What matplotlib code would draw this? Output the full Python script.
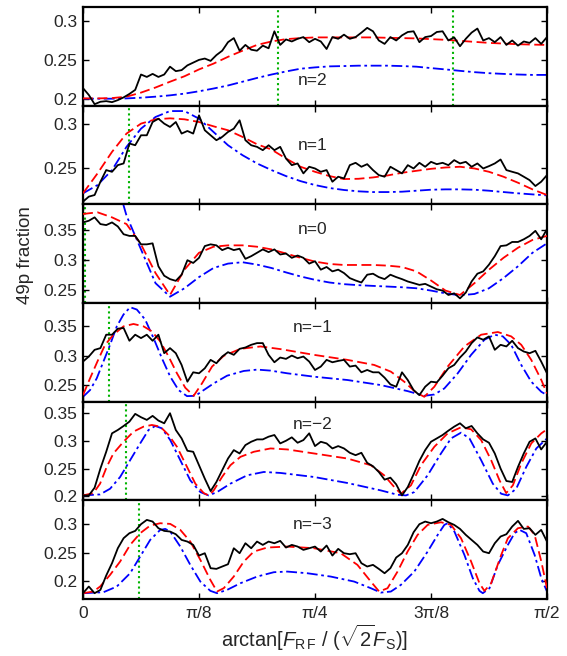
import numpy as np
import matplotlib
matplotlib.use('Agg')
import matplotlib.pyplot as plt
from matplotlib.ticker import FixedLocator, FuncFormatter

plt.rcParams['font.family'] = ['Liberation Sans', 'DejaVu Sans']
plt.rcParams['mathtext.fontset'] = 'custom'
plt.rcParams['mathtext.rm'] = 'Liberation Sans'
plt.rcParams['mathtext.it'] = 'Liberation Sans:italic'
plt.rcParams['mathtext.sf'] = 'Liberation Sans'

# field angle arctan[F_RF/(sqrt2 F_S)] in degrees
theta_meas = np.linspace(0, 90, 81)     # measured scans
theta_model = np.linspace(0, 90, 33)    # model grid for n=2, 1, 0

n_labels = ['n=2', 'n=1', 'n=0', 'n=\u22121', 'n=\u22122', 'n=\u22123']

# ---- n = 2 ----
meas_n2 = [0.2144, 0.2057, 0.1939, 0.197, 0.1978, 0.1965, 0.1991, 0.2026, 0.207, 0.2122,
           0.2318, 0.2287, 0.2326, 0.2287, 0.2318, 0.2418, 0.2361, 0.2374, 0.2435, 0.247,
           0.2505, 0.2522, 0.2492, 0.2566, 0.2622, 0.2731, 0.2783, 0.2622, 0.2696, 0.2635,
           0.2622, 0.2687, 0.2653, 0.287, 0.2696, 0.2766, 0.274, 0.2774, 0.2796, 0.2731,
           0.2774, 0.274, 0.2644, 0.2796, 0.2774, 0.2827, 0.2774, 0.2796, 0.2853, 0.2914,
           0.287, 0.2753, 0.2709, 0.2796, 0.2753, 0.2818, 0.2861, 0.287, 0.2731, 0.2796,
           0.2809, 0.2861, 0.287, 0.2753, 0.2792, 0.2679, 0.2774, 0.2853, 0.2905, 0.2753,
           0.2783, 0.2731, 0.2796, 0.2696, 0.2753, 0.2687, 0.274, 0.2722, 0.2783, 0.2709,
           0.2796]
full_n2 = [0.2013, 0.2013, 0.2017, 0.2035, 0.2087, 0.2152, 0.2226, 0.2296, 0.2383, 0.2457,
           0.2544, 0.2622, 0.2696, 0.274, 0.277, 0.2783, 0.2792, 0.2792, 0.2792, 0.2792,
           0.2792, 0.2787, 0.2783, 0.2779, 0.277, 0.2761, 0.2748, 0.2735, 0.2722, 0.2713,
           0.2705, 0.27, 0.2696]
simple_n2 = [0.2009, 0.2009, 0.2009, 0.2013, 0.2022, 0.2035, 0.2052, 0.2074, 0.2104, 0.2139,
             0.2178, 0.2226, 0.2274, 0.2318, 0.2357, 0.2392, 0.2409, 0.2422, 0.2426, 0.2431,
             0.2431, 0.2431, 0.2426, 0.2418, 0.24, 0.2383, 0.2365, 0.2348, 0.2335, 0.2326,
             0.2318, 0.2313, 0.2313]

# ---- n = 1 ----
meas_n1 = [0.213, 0.2186, 0.2204, 0.2352, 0.2482, 0.2463, 0.2537, 0.2556, 0.2778, 0.2759,
           0.287, 0.287, 0.3018, 0.3055, 0.3, 0.2963, 0.3018, 0.2889, 0.2918, 0.2889,
           0.3092, 0.2926, 0.287, 0.2815, 0.2852, 0.2907, 0.2944, 0.3037, 0.2815, 0.2759,
           0.2741, 0.2704, 0.2759, 0.2704, 0.2741, 0.2611, 0.2537, 0.2556, 0.2445, 0.2519,
           0.25, 0.2463, 0.2482, 0.2352, 0.2408, 0.2389, 0.2537, 0.2563, 0.2519, 0.2548,
           0.2482, 0.2426, 0.2408, 0.2519, 0.2482, 0.2445, 0.2537, 0.25, 0.2563, 0.2519,
           0.2574, 0.2548, 0.2563, 0.2537, 0.2593, 0.2556, 0.2574, 0.2519, 0.2556, 0.25,
           0.2526, 0.2556, 0.26, 0.2482, 0.2463, 0.2445, 0.2408, 0.237, 0.2304, 0.2352,
           0.2426]
full_n1 = [0.2223, 0.2445, 0.2685, 0.2889, 0.3, 0.3048, 0.3059, 0.3048, 0.3018, 0.297,
           0.2926, 0.2852, 0.277, 0.2711, 0.2611, 0.2519, 0.2463, 0.2415, 0.2382, 0.2385,
           0.24, 0.2422, 0.2452, 0.2474, 0.2496, 0.2511, 0.2519, 0.25, 0.2463, 0.2408,
           0.2341, 0.2267, 0.2204]
simple_n1 = [0.2223, 0.2315, 0.2482, 0.2741, 0.2944, 0.3074, 0.314, 0.314, 0.3055, 0.2907,
             0.2759, 0.2648, 0.2556, 0.2482, 0.2415, 0.2359, 0.2315, 0.2282, 0.226, 0.2245,
             0.2237, 0.2237, 0.2241, 0.2252, 0.2263, 0.2267, 0.2267, 0.2263, 0.2252, 0.2237,
             0.2223, 0.2211, 0.22]

# ---- n = 0 ----
meas_n0 = [0.3636, 0.3664, 0.3721, 0.3608, 0.3591, 0.3636, 0.3568, 0.3437, 0.3409, 0.3409,
           0.3267, 0.3267, 0.3284, 0.2898, 0.2739, 0.2682, 0.2653, 0.2756, 0.3, 0.2954,
           0.304, 0.3238, 0.3267, 0.325, 0.317, 0.321, 0.317, 0.3193, 0.3023, 0.3068,
           0.3125, 0.3182, 0.3136, 0.3182, 0.3096, 0.3113, 0.304, 0.3079, 0.304, 0.2943,
           0.2983, 0.2841, 0.2886, 0.2812, 0.2841, 0.2784, 0.2699, 0.2659, 0.2625, 0.2756,
           0.2773, 0.2716, 0.2682, 0.2756, 0.2716, 0.2682, 0.2642, 0.2614, 0.2585, 0.2602,
           0.2557, 0.2511, 0.2489, 0.2415, 0.2443, 0.2358, 0.2455, 0.2642, 0.2773, 0.2812,
           0.2926, 0.3068, 0.3238, 0.325, 0.3307, 0.3307, 0.3352, 0.3409, 0.3494, 0.3352,
           0.3522]
full_n0 = [0.3778, 0.3806, 0.3721, 0.3608, 0.3267, 0.2784, 0.2415, 0.2841, 0.3125, 0.3227,
           0.325, 0.325, 0.3227, 0.3182, 0.3113, 0.304, 0.2977, 0.2937, 0.292, 0.292,
           0.292, 0.2909, 0.2886, 0.2812, 0.2659, 0.2489, 0.2415, 0.2614, 0.2841, 0.304,
           0.321, 0.3341, 0.3409]
simple_n0 = [0.70, 0.58, 0.46, 0.375, 0.3182, 0.2614, 0.2386, 0.2528, 0.2716, 0.2869,
             0.2943, 0.2966, 0.2926, 0.2869, 0.2795, 0.2727, 0.267, 0.2625, 0.2597, 0.258,
             0.2568, 0.2557, 0.2545, 0.2528, 0.2489, 0.2443, 0.2409, 0.2432, 0.2528, 0.2699,
             0.2898, 0.3125, 0.3284]

# ---- n = -1 ----
meas_m1 = [0.2897, 0.2983, 0.3098, 0.3127, 0.3357, 0.3357, 0.346, 0.3472, 0.3253, 0.3357,
           0.3299, 0.3357, 0.3253, 0.3357, 0.304, 0.3127, 0.304, 0.2839, 0.2552, 0.2713,
           0.2696, 0.2782, 0.2926, 0.2868, 0.2983, 0.3058, 0.3012, 0.3115, 0.3138, 0.3184,
           0.3213, 0.3213, 0.3012, 0.2885, 0.2966, 0.2943, 0.3, 0.2954, 0.2983, 0.2897,
           0.2753, 0.2811, 0.2926, 0.2885, 0.2908, 0.2926, 0.2811, 0.2828, 0.2713, 0.2753,
           0.2713, 0.2713, 0.2621, 0.2506, 0.2466, 0.2713, 0.258, 0.2408, 0.2322, 0.2466,
           0.2552, 0.254, 0.2655, 0.2782, 0.2839, 0.2966, 0.3069, 0.3213, 0.3311, 0.3271,
           0.3328, 0.3098, 0.3184, 0.3156, 0.3253, 0.3127, 0.3069, 0.304, 0.3081, 0.2897,
           0.2696]
full_m1_deg = [0, 1.36, 2.79, 4.28, 5.90, 7.85, 9.79, 11.74, 13.36, 14.98, 16.60, 18.22,
               19.84, 21.46, 23.08, 25.03, 27.30, 30.54, 34.43, 38.32, 44.80, 51.29, 56.48,
               59.72, 62.31, 64.58, 66.20, 68.15, 70.74, 73.98, 77.23, 80.47, 83.06, 85.01,
               86.95, 88.90, 90]
full_m1 = [0.2322, 0.2609, 0.2897, 0.3184, 0.3357, 0.35, 0.3541, 0.35, 0.3414, 0.3242,
           0.2983, 0.2696, 0.2448, 0.231, 0.2523, 0.2811, 0.2995, 0.3115, 0.3156, 0.311,
           0.3012, 0.2926, 0.2839, 0.2724, 0.2552, 0.2368, 0.2293, 0.2466, 0.2811, 0.3156,
           0.3357, 0.3403, 0.3328, 0.3184, 0.2926, 0.2581, 0.235]
simple_m1_deg = [0, 1.36, 2.66, 3.96, 5.25, 6.55, 7.85, 9.14, 10.44, 12.06, 13.68, 15.30,
                 16.92, 18.54, 20.17, 21.79, 23.41, 25.35, 27.95, 31.19, 33.78, 36.38, 39.62,
                 44.80, 51.29, 57.77, 62.96, 66.20, 68.15, 70.09, 72.69, 75.28, 77.87, 79.82,
                 81.44, 83.06, 85.01, 86.95, 88.90, 90]
simple_m1 = [0.2293, 0.2408, 0.2609, 0.2897, 0.3184, 0.35, 0.3702, 0.3828, 0.3788, 0.3616,
             0.3299, 0.2954, 0.2638, 0.2408, 0.2305, 0.231, 0.2408, 0.2523, 0.2655, 0.2736,
             0.2759, 0.2742, 0.2696, 0.2638, 0.2581, 0.2494, 0.2391, 0.231, 0.2333, 0.2437,
             0.2696, 0.3012, 0.3271, 0.3357, 0.3328, 0.3184, 0.2839, 0.2552, 0.2379, 0.2322]

# ---- n = -2 ----
meas_m2 = [0.2018, 0.2018, 0.2157, 0.25, 0.2801, 0.3132, 0.3192, 0.3264, 0.3342, 0.3481,
           0.3421, 0.3373, 0.3445, 0.3361, 0.3312, 0.3493, 0.3192, 0.3041, 0.2819, 0.2801,
           0.256, 0.2319, 0.2096, 0.2259, 0.247, 0.268, 0.2831, 0.2771, 0.2921, 0.2981,
           0.3023, 0.3023, 0.3072, 0.3102, 0.2951, 0.2999, 0.306, 0.2963, 0.3011, 0.3132,
           0.2903, 0.2981, 0.2951, 0.2861, 0.2903, 0.2861, 0.2783, 0.274, 0.2783, 0.2602,
           0.2542, 0.2439, 0.2301, 0.2337, 0.2217, 0.2018, 0.2169, 0.2397, 0.2638, 0.2831,
           0.2981, 0.3041, 0.3102, 0.318, 0.3252, 0.3312, 0.3222, 0.3264, 0.3132, 0.3023,
           0.2963, 0.2771, 0.25, 0.2277, 0.2259, 0.253, 0.2771, 0.2981, 0.3041, 0.2843,
           0.2981]
full_m2_deg = [0, 2.01, 3.31, 4.60, 5.90, 7.85, 9.79, 11.74, 13.36, 14.98, 16.60, 18.22,
               20.17, 21.79, 23.41, 24.38, 25.35, 26.97, 28.59, 30.54, 33.13, 36.38, 39.62,
               44.80, 51.29, 55.83, 58.42, 60.37, 61.66, 63.61, 65.55, 68.15, 70.74, 73.33,
               75.28, 77.23, 79.17, 80.79, 82.09, 83.38, 85.01, 86.95, 88.90, 90]
full_m2 = [0.2018, 0.206, 0.2229, 0.253, 0.2771, 0.2981, 0.3162, 0.3252, 0.3282, 0.3252,
           0.3102, 0.2891, 0.253, 0.2229, 0.206, 0.2018, 0.2108, 0.2349, 0.256, 0.271,
           0.2801, 0.2861, 0.2843, 0.2771, 0.268, 0.256, 0.2379, 0.2169, 0.2048, 0.2199,
           0.256, 0.2891, 0.3132, 0.324, 0.3204, 0.3011, 0.265, 0.2289, 0.206, 0.2199,
           0.259, 0.2951, 0.3132, 0.3204]
simple_m2_deg = [0, 3.31, 5.25, 7.20, 9.14, 11.09, 12.71, 14.01, 15.30, 16.92, 18.87, 20.81,
                 22.76, 24.38, 26.00, 28.59, 31.84, 35.08, 38.32, 44.80, 51.29, 57.77, 61.01,
                 62.64, 64.26, 66.85, 69.44, 71.39, 73.33, 74.96, 77.23, 79.49, 81.12, 82.41,
                 84.03, 85.98, 87.93, 90]
simple_m2 = [0.2018, 0.2036, 0.2138, 0.2349, 0.265, 0.2951, 0.3192, 0.3264, 0.3222, 0.3011,
             0.265, 0.2289, 0.2078, 0.2018, 0.2078, 0.2229, 0.2379, 0.2439, 0.2421, 0.2349,
             0.2241, 0.2108, 0.203, 0.2018, 0.2078, 0.2379, 0.2771, 0.3041, 0.3144, 0.3041,
             0.265, 0.2229, 0.2048, 0.2018, 0.2138, 0.253, 0.2861, 0.3041]

# ---- n = -3 ----
meas_m3 = [0.1791, 0.1907, 0.1791, 0.1849, 0.2099, 0.2314, 0.2575, 0.275, 0.2837, 0.2877,
           0.2994, 0.3069, 0.304, 0.2924, 0.2877, 0.2866, 0.2819, 0.272, 0.2691, 0.2633,
           0.2447, 0.2488, 0.2227, 0.2215, 0.2256, 0.2296, 0.2575, 0.2488, 0.2662, 0.2575,
           0.2691, 0.2633, 0.2691, 0.2662, 0.2703, 0.2587, 0.2633, 0.2604, 0.2546, 0.2575,
           0.2604, 0.2517, 0.2622, 0.2447, 0.2564, 0.2488, 0.2471, 0.2488, 0.2314, 0.2256,
           0.2285, 0.2215, 0.2139, 0.2227, 0.2413, 0.2488, 0.2633, 0.2854, 0.2994, 0.304,
           0.3011, 0.304, 0.3086, 0.3028, 0.2982, 0.2912, 0.2808, 0.272, 0.2633, 0.2517,
           0.2488, 0.2662, 0.2779, 0.2819, 0.2953, 0.3052, 0.2912, 0.2924, 0.2808, 0.2895,
           0.2691]
full_m3_deg = [0, 2.01, 3.31, 5.25, 7.20, 9.14, 11.09, 13.03, 14.98, 16.92, 18.87, 20.81,
               22.76, 24.70, 26.00, 27.30, 29.24, 31.19, 33.13, 35.73, 39.62, 44.80, 49.99,
               53.23, 55.83, 57.45, 59.07, 61.01, 62.96, 64.90, 66.85, 69.44, 71.39, 73.33,
               75.28, 76.90, 77.87, 79.17, 81.12, 82.41, 84.36, 86.31, 87.60, 88.90, 90]
full_m3 = [0.1791, 0.182, 0.1907, 0.211, 0.2343, 0.2633, 0.2837, 0.297, 0.3011, 0.2999,
           0.2895, 0.2691, 0.2372, 0.2023, 0.182, 0.1878, 0.2081, 0.2343, 0.2517, 0.2587,
           0.2604, 0.2575, 0.2488, 0.2285, 0.1994, 0.182, 0.1878, 0.2168, 0.2517, 0.2808,
           0.2982, 0.3028, 0.2982, 0.2749, 0.2343, 0.1965, 0.1831, 0.1965, 0.2459, 0.2749,
           0.2924, 0.2953, 0.2808, 0.2343, 0.1878]
simple_m3_deg = [0, 3.96, 6.55, 9.14, 11.09, 13.03, 14.98, 15.95, 16.92, 18.87, 20.81, 22.76,
                 24.70, 26.00, 27.95, 30.54, 33.78, 37.02, 39.62, 43.51, 48.05, 52.59, 55.83,
                 57.77, 59.72, 61.66, 64.26, 66.85, 68.80, 70.09, 70.74, 72.04, 73.98, 75.61,
                 76.90, 77.55, 78.85, 80.47, 82.41, 83.71, 84.68, 85.98, 87.60, 88.90, 90]
simple_m3 = [0.1791, 0.1808, 0.1907, 0.2139, 0.243, 0.272, 0.2895, 0.2912, 0.2866, 0.2604,
             0.2285, 0.1994, 0.1832, 0.1791, 0.1849, 0.1965, 0.2081, 0.2157, 0.2168, 0.2139,
             0.2081, 0.1994, 0.1878, 0.1802, 0.182, 0.1936, 0.2168, 0.2517, 0.2808, 0.2982,
             0.3011, 0.2866, 0.2459, 0.2052, 0.1832, 0.1791, 0.1878, 0.2285, 0.2633, 0.2837,
             0.2895, 0.2837, 0.2459, 0.2052, 0.182]

# resonance positions (deg) and axis ranges
cross_deg = [[37.8, 71.7], [9.0], [0.4], [5.06], [8.36], [10.9]]
ylims = [(0.192, 0.318), (0.21, 0.32), (0.228, 0.394), (0.221, 0.39), (0.193, 0.37), (0.169, 0.341)]
yticks = [[0.2, 0.25, 0.3], [0.25, 0.3], [0.25, 0.3, 0.35], [0.25, 0.3, 0.35],
          [0.2, 0.25, 0.3, 0.35], [0.2, 0.25, 0.3]]
label_pos = [(0.463, 0.26), (0.463, 0.60), (0.463, 0.74), (0.452, 0.75), (0.452, 0.77), (0.452, 0.75)]

meas = [meas_n2, meas_n1, meas_n0, meas_m1, meas_m2, meas_m3]
full = [(theta_model, full_n2), (theta_model, full_n1), (theta_model, full_n0),
        (full_m1_deg, full_m1), (full_m2_deg, full_m2), (full_m3_deg, full_m3)]
simple = [(theta_model, simple_n2), (theta_model, simple_n1), (theta_model, simple_n0),
          (simple_m1_deg, simple_m1), (simple_m2_deg, simple_m2), (simple_m3_deg, simple_m3)]

fig, axes = plt.subplots(6, 1, sharex=True, figsize=(5.67, 6.56), dpi=100)
fig.subplots_adjust(left=0.1464, right=0.9647, top=0.9893, bottom=0.0869, hspace=0)

text_col = '#262626'
for k, ax in enumerate(axes):
    for c in cross_deg[k]:
        ax.axvline(np.deg2rad(c), color=(0.0, 0.7, 0.0), ls=(0, (1, 1.5)), lw=1.5, zorder=1)
    xs, ys = simple[k]
    ax.plot(np.deg2rad(xs), ys, color='b', lw=1.3, ls=(0, (6, 2, 1.5, 2)), zorder=2)
    xf, yf = full[k]
    ax.plot(np.deg2rad(xf), yf, color='r', lw=1.3, ls=(0, (5.5, 2.5)), zorder=3)
    ax.plot(np.deg2rad(theta_meas), meas[k], color='k', lw=1.3, zorder=4)

    ax.set_xlim(0, np.pi / 2)
    ax.set_ylim(*ylims[k])
    ax.yaxis.set_major_locator(FixedLocator(yticks[k]))
    ax.yaxis.set_major_formatter(FuncFormatter(lambda v, p: f'{v:g}'))
    ax.tick_params(direction='in', top=True, right=True, length=4, width=1.0,
                   labelsize=12.5, labelcolor=text_col, pad=4)
    for s in ax.spines.values():
        s.set_linewidth(1.6)
    ax.text(label_pos[k][0], label_pos[k][1], n_labels[k], transform=ax.transAxes,
            ha='left', va='center', fontsize=12.5, color=text_col)

xt = [0, np.pi / 8, np.pi / 4, 3 * np.pi / 8, np.pi / 2]
axes[-1].set_xticks(xt)
axes[-1].set_xticklabels(['0', '\u03c0/8', '\u03c0/4', '3\u03c0/8', '\u03c0/2'])
axes[-1].tick_params(axis='x', pad=5)
axes[-1].set_xlabel(r'arctan[$F_{\mathrm{R\,F}}$ / ($\sqrt{2}F_{\mathrm{S}}$)]',
                    fontsize=14.5, color=text_col, labelpad=1)

fig.text(25 / 567, 1 - 255 / 656, '49p fraction', rotation=90, ha='center', va='center',
         fontsize=13.5, color=text_col)

fig.savefig('out.png', dpi=100)
